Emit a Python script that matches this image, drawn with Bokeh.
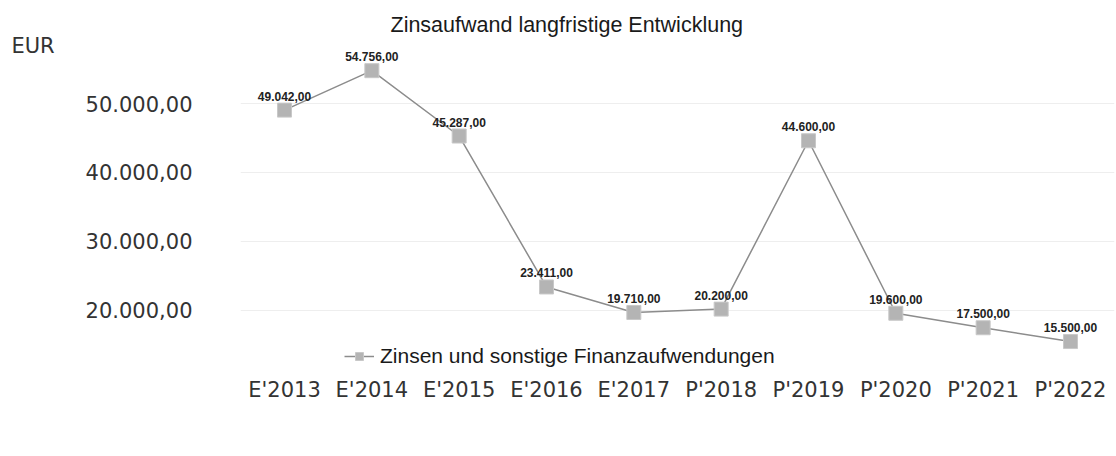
from bokeh.plotting import figure
from bokeh.models import (ColumnDataSource, FixedTicker, Range1d, Legend,
                          LegendItem, Title)
from bokeh.core.properties import value
from bokeh.embed import file_html
from bokeh.resources import INLINE

categories = ["E'2013", "E'2014", "E'2015", "E'2016", "E'2017",
              "P'2018", "P'2019", "P'2020", "P'2021", "P'2022"]
values = [49042, 54756, 45287, 23411, 19710, 20200, 44600, 19600, 17500, 15500]
y_ticks = [20000, 30000, 40000, 50000]
series_name = "Zinsen und sonstige Finanzaufwendungen"
title_text = "Zinsaufwand langfristige Entwicklung"
unit_text = "EUR"


def de_fmt(v):
    s = f"{v:,.2f}"
    return s.replace(",", "X").replace(".", ",").replace("X", ".")


xs = list(range(len(categories)))
src = ColumnDataSource(dict(x=xs, y=values, lbl=[de_fmt(v) for v in values]))

p = figure(width=1116, height=456, frame_width=874, frame_height=325,
           output_backend="svg", toolbar_location=None,
           x_range=Range1d(-0.504, 9.504), y_range=Range1d(11304, 58406),
           min_border_left=240, min_border_right=2, min_border_top=45,
           min_border_bottom=86)
p.outline_line_color = None
p.background_fill_color = "white"
p.border_fill_color = "white"

p.title = Title(text=title_text, align="left", offset=150,
                text_font="Liberation Sans", text_font_size="21.5px",
                text_font_style="normal", text_color="#1a1a1a",
                standoff=18)

line = p.line("x", "y", source=src, line_color="#8c8c8c", line_width=1.5)
sq = p.scatter("x", "y", source=src, marker="square", size=14,
               fill_color="#b4b4b4", line_color="#c8c8c8", line_width=1)
p.text("x", "y", text="lbl", source=src, y_offset=-14, text_align="center",
       text_baseline="middle", text_font=value("Liberation Sans"),
       text_font_size="12px", text_font_style="bold", text_color="#222222")

# axes
p.xaxis.ticker = FixedTicker(ticks=xs)
p.xaxis.major_label_overrides = {i: c for i, c in enumerate(categories)}
p.yaxis.ticker = FixedTicker(ticks=y_ticks)
p.yaxis.major_label_overrides = {t: de_fmt(t) for t in y_ticks}
for ax in (p.xaxis[0], p.yaxis[0]):
    ax.axis_line_color = None
    ax.major_tick_line_color = None
    ax.minor_tick_line_color = None
    ax.major_tick_out = 0
    ax.minor_tick_out = 0
    ax.major_label_text_font = "DejaVu Sans"
    ax.major_label_text_font_size = "21px"
    ax.major_label_text_color = "#333333"
p.xaxis.major_label_standoff = 7
p.yaxis.major_label_standoff = 48

# unit label at the top end of the y axis
yax = p.yaxis[0]
yax.axis_label = unit_text
yax.axis_label_orientation = "horizontal"
yax.axis_label_text_font = "DejaVu Sans"
yax.axis_label_text_font_size = "21px"
yax.axis_label_text_font_style = "normal"
yax.axis_label_text_color = "#333333"
yax.axis_label_standoff = 28
if "axis_label_align" in yax.properties():
    yax.axis_label_align = "end"

p.xgrid.grid_line_color = None
p.ygrid.grid_line_color = "#eeeeee"
p.ygrid.grid_line_width = 1

# legend kept inside the frame (bottom-left free area) so it stays visible
legend = Legend(items=[LegendItem(label=series_name, renderers=[line, sq])],
                location=(104, 2), orientation="horizontal",
                label_text_font="Liberation Sans", label_text_font_size="21px",
                label_text_color="#1a1a1a", glyph_width=30, glyph_height=20,
                label_standoff=6, padding=2, margin=0,
                border_line_color=None, background_fill_alpha=0)
p.add_layout(legend, "center")

open("out.html", "w").write(file_html(p, INLINE))
